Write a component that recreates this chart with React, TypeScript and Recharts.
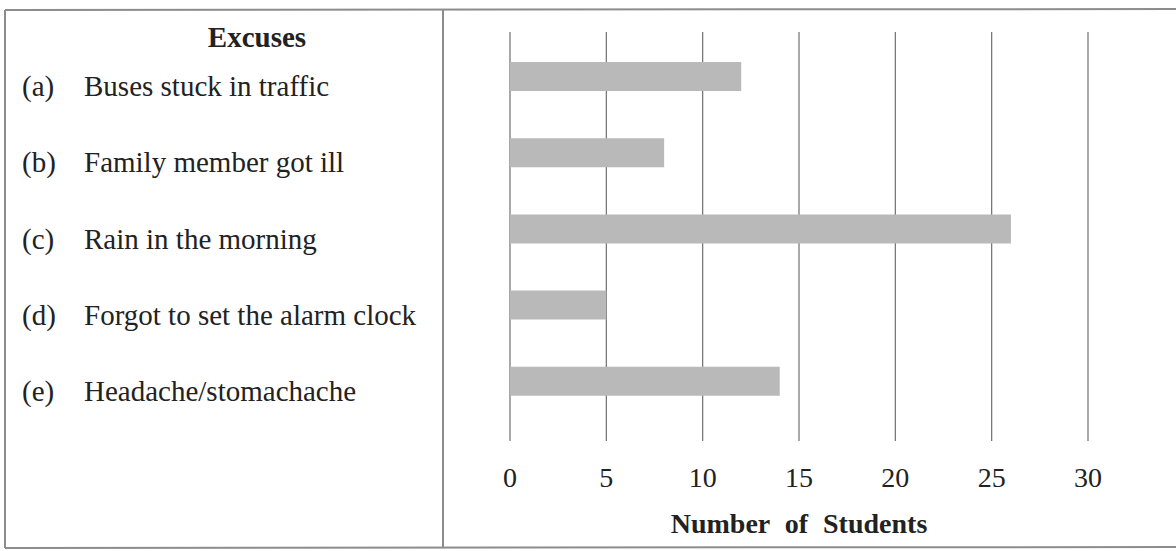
import React from 'react';
import { BarChart, Bar, XAxis, YAxis, CartesianGrid } from 'recharts';

const letters = ['(a)', '(b)', '(c)', '(d)', '(e)'];
const excuses = [
  'Buses stuck in traffic',
  'Family member got ill',
  'Rain in the morning',
  'Forgot to set the alarm clock',
  'Headache/stomachache',
];
const students = [12, 8, 26, 5, 14];
const xTicks = [0, 5, 10, 15, 20, 25, 30];

const data = excuses.map((excuse, i) => ({ excuse, letter: letters[i], students: students[i] }));

const FONT = '"Liberation Serif", "Times New Roman", Times, serif';
const INK = '#222';

const ExcuseTick = (props: any) => {
  const { y, index } = props;
  return (
    <g>
      <text x={22} y={y + 20} fontFamily={FONT} fontSize={29} fill={INK}>
        {letters[index]}
      </text>
      <text x={84} y={y + 20} fontFamily={FONT} fontSize={29} fill={INK}>
        {excuses[index]}
      </text>
    </g>
  );
};

const NumberTick = (props: any) => {
  const { x, y, payload } = props;
  return (
    <text x={x} y={y + 46} textAnchor="middle" fontFamily={FONT} fontSize={28} fill={INK}>
      {payload.value}
    </text>
  );
};

export default function App() {
  return (
    <div style={{ position: 'absolute', left: 0, top: 0, width: 1176, height: 551, background: '#fff' }}>
      <BarChart
        width={1176}
        height={551}
        data={data}
        layout="vertical"
        margin={{ top: 32, right: 88, bottom: 0, left: 0 }}
      >
        <CartesianGrid horizontal={false} stroke="#6f6f6f" strokeWidth={1.2} />
        <XAxis
          type="number"
          domain={[0, 30]}
          ticks={xTicks}
          axisLine={false}
          tickLine={false}
          tickSize={0}
          tickMargin={0}
          height={110}
          tick={<NumberTick />}
          label={{
            value: 'Number of Students',
            position: 'insideBottom',
            offset: 18,
            style: { fontFamily: FONT, fontSize: 28, fontWeight: 'bold', fill: INK, wordSpacing: '8px' },
          }}
        />
        <YAxis
          type="category"
          dataKey="excuse"
          width={510}
          axisLine={false}
          tickLine={false}
          padding={{ top: 6, bottom: 22 }}
          tick={<ExcuseTick />}
        />
        <Bar dataKey="students" fill="#b9b9b9" barSize={29} isAnimationActive={false} />
      </BarChart>
      <svg
        width={1176}
        height={551}
        style={{ position: 'absolute', left: 0, top: 0, pointerEvents: 'none' }}
      >
        <line x1={5} y1={10} x2={1176} y2={9} stroke="#8c8c8c" strokeWidth={2} />
        <line x1={5} y1={10} x2={5} y2={548} stroke="#8c8c8c" strokeWidth={2} />
        <line x1={443} y1={10} x2={443} y2={548} stroke="#8c8c8c" strokeWidth={2} />
        <line x1={5} y1={548} x2={1176} y2={547} stroke="#8c8c8c" strokeWidth={2} />
        <text x={257} y={47} textAnchor="middle" fontFamily={FONT} fontSize={29} fontWeight="bold" fill={INK}>
          Excuses
        </text>
      </svg>
    </div>
  );
}
